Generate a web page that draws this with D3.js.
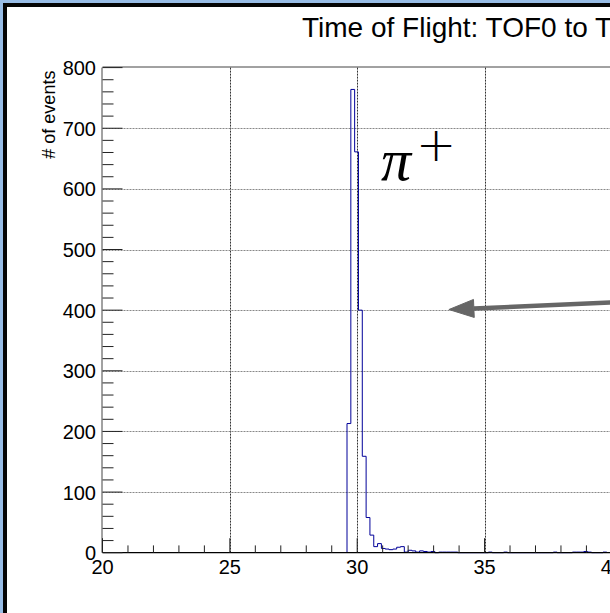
<!DOCTYPE html>
<html>
<head>
<meta charset="utf-8">
<script src="https://cdn.jsdelivr.net/npm/d3@7"></script>
<style>
  html, body { margin: 0; padding: 0; overflow: hidden; background: #fff; }
  svg { display: block; }
  text { font-family: "Liberation Sans", Arial, Helvetica, sans-serif; }
</style>
</head>
<body>
<svg id="chart" width="610" height="613"></svg>
<script>
// Time-of-flight histogram, 0.15 ns bins starting at 29.6 ns
const binWidth = 0.15;
const firstBinEdge = 29.6;
const binCounts = [
  213, 764, 661, 400, 159, 58, 29, 10, 15, 7,
  6, 5, 6, 9, 10, 1, 4, 3, 1, 3,
  2, 1, 2, 0, 1, 1, 1, 1, 1, 0,
  0, 0, 0, 0, 0, 0, 0, 1, 0, 0,
  0, 1, 0, 0, 0, 0, 0, 0, 0, 0,
  0, 0, 0, 0, 1, 0, 0, 0, 0, 1,
  1, 1, 2, 1, 0, 0, 0, 1
];

// Axis setup
const xDomain = [20, 50];
const yDomain = [0, 800];
const xMajorTicks = [20, 25, 30, 35, 40, 45, 50];
const yMajorTicks = [0, 100, 200, 300, 400, 500, 600, 700, 800];
const xGridValues = [25, 30, 35, 40, 45];
const yGridValues = [100, 200, 300, 400, 500, 600, 700];

// Annotation: arrow pointing at the pion peak (data coordinates)
const arrowFrom = [44, 420];
const arrowTo = [33.6, 401];

const titleText = "Time of Flight: TOF0 to TOF1";
const yTitle = "# of events";

const svg = d3.select("#chart");

// Window frame: light blue edge, black border, white canvas
svg.append("rect").attr("x", 0).attr("y", 0).attr("width", 1000).attr("height", 1000).attr("fill", "#98bde6");
svg.append("rect").attr("x", 3).attr("y", 3).attr("width", 1000).attr("height", 1000).attr("fill", "#050505");
svg.append("rect").attr("x", 7).attr("y", 7).attr("width", 1000).attr("height", 1000).attr("fill", "#ffffff");

const frame = { left: 102.5, top: 67.6, right: 866.6, bottom: 552.7 };

const x = d3.scaleLinear().domain(xDomain).range([frame.left, frame.right]);
const y = d3.scaleLinear().domain(yDomain).range([frame.bottom, frame.top]);

// Dotted grid
const grid = svg.append("g");
grid.selectAll("line.gx").data(xGridValues).join("line")
  .attr("x1", d => Math.round(x(d)) + 0.5).attr("x2", d => Math.round(x(d)) + 0.5)
  .attr("y1", frame.top).attr("y2", frame.bottom)
  .attr("stroke", "#333").attr("stroke-width", 1).attr("stroke-dasharray", "2,1");
grid.selectAll("line.gy").data(yGridValues).join("line")
  .attr("x1", frame.left).attr("x2", frame.right)
  .attr("y1", d => Math.round(y(d)) + 0.5).attr("y2", d => Math.round(y(d)) + 0.5)
  .attr("stroke", "#888").attr("stroke-width", 1).attr("stroke-dasharray", "2,1");

// Histogram outline
const pts = [[x(firstBinEdge), y(0)]];
binCounts.forEach((c, i) => {
  const lo = firstBinEdge + i * binWidth;
  const hi = lo + binWidth;
  pts.push([x(lo), y(c)], [x(hi), y(c)]);
});
pts.push([x(firstBinEdge + binCounts.length * binWidth), y(0)]);
svg.append("path")
  .attr("d", d3.line()(pts))
  .attr("fill", "none")
  .attr("stroke", "#000099")
  .attr("stroke-width", 1);

// Frame box
svg.append("line").attr("x1", frame.left).attr("x2", frame.right).attr("y1", 67).attr("y2", 67)
  .attr("stroke", "#444").attr("stroke-width", 1);
svg.append("line").attr("x1", 102).attr("x2", 102).attr("y1", frame.top).attr("y2", frame.bottom)
  .attr("stroke", "#444").attr("stroke-width", 1);

// X axis with inward ticks
const xAxisG = svg.append("g").attr("transform", `translate(0,${frame.bottom})`);
xAxisG.append("line").attr("x1", frame.left).attr("x2", frame.right).attr("y1", 0).attr("y2", 0)
  .attr("stroke", "#000").attr("stroke-width", 1.2);
const xMinor = d3.range(xDomain[0], xDomain[1] + 0.001, 1);
xAxisG.selectAll("line.xt").data(xMinor).join("line")
  .attr("x1", d => x(d)).attr("x2", d => x(d))
  .attr("y1", 0).attr("y2", d => (d % 5 === 0 ? -14.5 : -7.3))
  .attr("stroke", "#222").attr("stroke-width", 1);
xAxisG.selectAll("text").data(xMajorTicks).join("text")
  .attr("x", d => x(d)).attr("y", 21.5)
  .attr("text-anchor", "middle")
  .attr("font-size", 20)
  .attr("fill", "#000")
  .text(d => d);

// Y axis with inward ticks
const yMinor = d3.range(yDomain[0], yDomain[1] + 0.001, 20);
const yAxisG = svg.append("g");
yAxisG.selectAll("line.yt").data(yMinor).join("line")
  .attr("x1", frame.left).attr("x2", d => frame.left + (d % 100 === 0 ? 20 : 11))
  .attr("y1", d => y(d)).attr("y2", d => y(d))
  .attr("stroke", "#222").attr("stroke-width", 1);
yAxisG.selectAll("text").data(yMajorTicks).join("text")
  .attr("x", 96).attr("y", d => y(d) + 7.5)
  .attr("text-anchor", "end")
  .attr("font-size", 20)
  .attr("fill", "#000")
  .text(d => d);

// Y axis title, right-aligned at the top of the axis
svg.append("text")
  .attr("transform", `translate(55,${frame.top + 3}) rotate(-90)`)
  .attr("text-anchor", "end")
  .attr("font-size", 18)
  .attr("fill", "#000")
  .text(yTitle);

// Title
svg.append("text")
  .attr("x", 302).attr("y", 37)
  .attr("font-size", 28)
  .attr("fill", "#000")
  .text(titleText);

// Particle label
const label = svg.append("text").attr("x", 381).attr("y", 180).attr("fill", "#000");
label.append("tspan")
  .attr("font-family", "'Liberation Serif', 'Times New Roman', serif")
  .attr("font-style", "italic")
  .attr("font-size", 60)
  .text("π");
label.append("tspan")
  .attr("x", 416).attr("y", 161)
  .attr("font-family", "'DejaVu Sans', sans-serif")
  .attr("font-size", 48)
  .attr("font-weight", 200)
  .text("+");

// Arrow
const ax0 = x(arrowFrom[0]), ay0 = y(arrowFrom[1]);
const ax1 = x(arrowTo[0]), ay1 = y(arrowTo[1]);
const ang = Math.atan2(ay1 - ay0, ax1 - ax0);
const headLen = 25, headHalf = 9;
const bx = ax1 - headLen * Math.cos(ang), by = ay1 - headLen * Math.sin(ang);
svg.append("line")
  .attr("x1", ax0).attr("y1", ay0).attr("x2", bx).attr("y2", by)
  .attr("stroke", "#666").attr("stroke-width", 4.5);
svg.append("path")
  .attr("d", d3.line()([
    [ax1, ay1],
    [bx + headHalf * Math.sin(ang), by - headHalf * Math.cos(ang)],
    [bx - headHalf * Math.sin(ang), by + headHalf * Math.cos(ang)]
  ]) + "Z")
  .attr("fill", "#666").attr("stroke", "#666").attr("stroke-width", 1);
</script>
</body>
</html>
